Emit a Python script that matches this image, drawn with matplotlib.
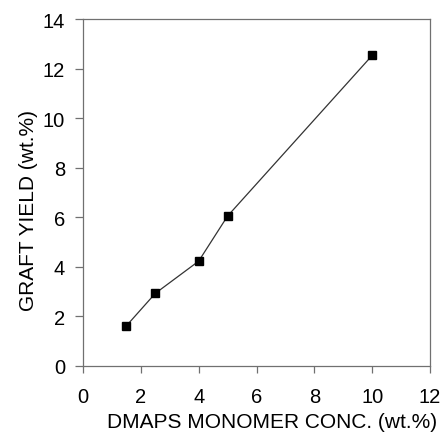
import matplotlib
matplotlib.use("Agg")
import matplotlib.pyplot as plt

plt.rcParams['font.family'] = ['Liberation Sans', 'DejaVu Sans']

conc = [1.5, 2.5, 4.0, 5.0, 10.0]
yield_ = [1.62, 2.93, 4.23, 6.05, 12.53]
xticks = [0, 2, 4, 6, 8, 10, 12]
yticks = [0, 2, 4, 6, 8, 10, 12, 14]

fig = plt.figure(figsize=(4.44, 4.35), dpi=100)
ax = fig.add_axes([83/444, 1-367/435, (430-83)/444, (367-20)/435])
ax.plot(conc, yield_, color='#333333', lw=0.9, marker='s', markersize=6,
        markerfacecolor='black', markeredgecolor='black')
ax.set_xlim(0, 12)
ax.set_ylim(0, 14)
ax.set_xticks(xticks)
ax.set_yticks(yticks)
for s in ax.spines.values():
    s.set_color('#707070')
    s.set_linewidth(0.9)
ax.tick_params(axis='x', direction='out', length=5, width=0.9, color='#707070',
               labelsize=14.5, pad=10)
ax.tick_params(axis='y', direction='out', length=5.8, width=0.9, color='#707070',
               labelsize=14.5, pad=7)
ax.set_xlabel('DMAPS MONOMER CONC. (wt.%)', fontsize=15)
ax.set_ylabel('GRAFT YIELD (wt.%)', fontsize=15)
ax.xaxis.set_label_coords(0.544, -0.132)
ax.yaxis.set_label_coords(-0.131, 0.450)
fig.savefig('out.png', dpi=100)
